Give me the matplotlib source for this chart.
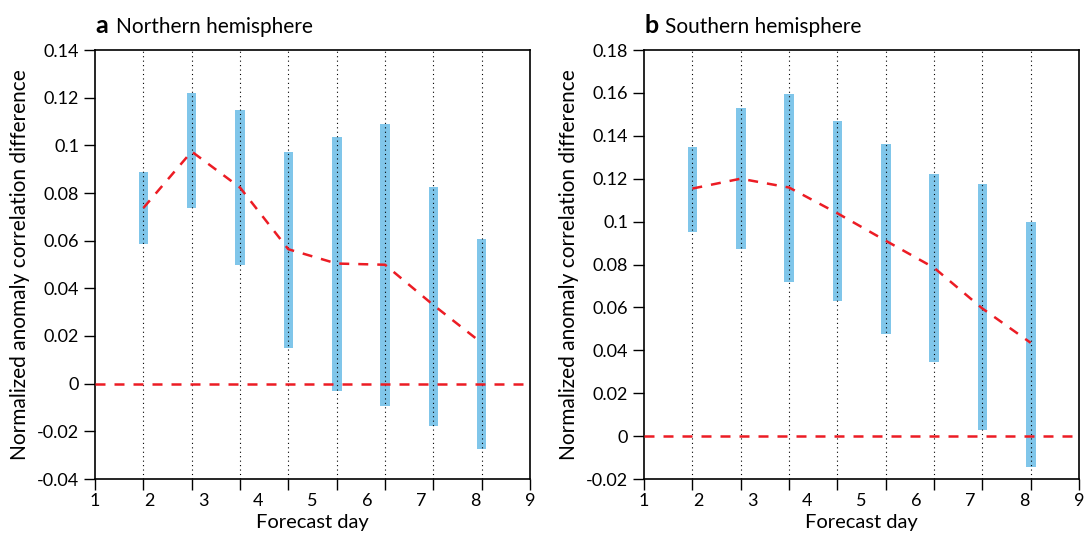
import numpy as np
import matplotlib
matplotlib.use('Agg')
import matplotlib.pyplot as plt

plt.rcParams['font.family'] = ['Lato', 'DejaVu Sans']

# forecast positions (bars sit on ticks 1..8 of a 0..9 axis)
pos = [1, 2, 3, 4, 5, 6, 7, 8]
day_labels = ['1', '2', '3', '4', '5', '6', '7', '8', '9']

# Northern hemisphere
nh_top = [0.089, 0.122, 0.115, 0.0974, 0.1037, 0.1088, 0.0827, 0.0605]
nh_bot = [0.0586, 0.0737, 0.0498, 0.015, -0.0031, -0.0093, -0.0178, -0.0275]
nh_mean = [0.0737, 0.0974, 0.0823, 0.0564, 0.0504, 0.0499, 0.033, 0.0171]

# Southern hemisphere
sh_top = [0.1349, 0.1531, 0.1597, 0.147, 0.1364, 0.1224, 0.1176, 0.100]
sh_bot = [0.095, 0.087, 0.0718, 0.0628, 0.0476, 0.0345, 0.0029, -0.0144]
sh_mean = [0.1154, 0.120, 0.1159, 0.1039, 0.0911, 0.0785, 0.0595, 0.0435]

blue = '#80c6ea'
red = '#ec1c24'

fig = plt.figure(figsize=(10.89, 5.38), dpi=100)
ax1 = fig.add_axes([95/1089, 59/538, 435/1089, 429/538])
ax2 = fig.add_axes([644/1089, 59/538, 435/1089, 429/538])

def draw(ax, top, bot, mean, ylo, yhi, letter, title):
    top = np.array(top)
    bot = np.array(bot)
    ax.bar(pos, top - bot, bottom=bot, width=0.2, color=blue, zorder=2)
    for p in pos:
        ax.axvline(p, color='black', ls=(0, (1, 3)), lw=0.8, zorder=3)
    ax.axhline(0, color=red, ls=(0, (4, 3.6)), lw=1.8, zorder=4)
    ax.plot(pos, mean, color=red, ls=(0, (4, 3.6)), lw=1.8, zorder=4)
    ax.set_xlim(0, 9)
    ax.set_ylim(ylo, yhi)
    yt = np.round(np.arange(ylo, yhi + 0.001, 0.02), 2)
    ax.set_yticks(yt)
    ax.set_yticklabels(['%g' % v for v in yt])
    # tick marks at 0..9, labels spread evenly over the axis
    ax.xaxis.remove_overlapping_locs = False
    ax.set_xticks(np.arange(0, 10))
    ax.set_xticklabels([])
    ax.set_xticks(np.linspace(0, 9, 9), minor=True)
    ax.set_xticklabels(day_labels, minor=True)
    ax.tick_params(axis='both', which='major', length=8, width=1, direction='out', labelsize=13)
    ax.tick_params(axis='x', which='minor', length=0, pad=10, labelsize=13)
    ax.set_xlabel('Forecast day', fontsize=14.5, labelpad=4)
    ax.set_ylabel('Normalized anomaly correlation difference', fontsize=15, labelpad=5)
    for s in ax.spines.values():
        s.set_linewidth(1.2)
    x0 = ax.get_position().x0
    fig.text(x0, 1 - 33/538, letter, fontsize=18, fontweight='bold', va='baseline')
    fig.text(x0 + 21/1089, 1 - 33/538, title, fontsize=15, va='baseline')

draw(ax1, nh_top, nh_bot, nh_mean, -0.04, 0.14, 'a', 'Northern hemisphere')
draw(ax2, sh_top, sh_bot, sh_mean, -0.02, 0.18, 'b', 'Southern hemisphere')

fig.savefig('out.png', dpi=100)
